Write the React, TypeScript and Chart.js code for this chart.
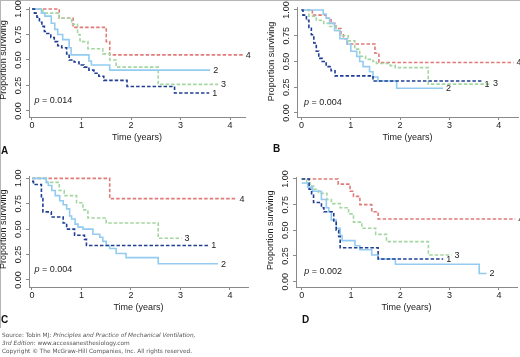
import React, { useEffect, useRef } from "react";
import { Chart, registerables } from "chart.js";
Chart.register(...registerables);

// ---------- shared axis values ----------
const yTickValues = [0, 0.25, 0.5, 0.75, 1];
const yTickLabels = ["0.00", "0.25", "0.50", "0.75", "1.00"];
const xTickValues = [0, 1, 2, 3, 4];
const xTickLabels = ["0", "1", "2", "3", "4"];
const groupNames = ["1", "2", "3", "4"];
const yTitle = "Proportion surviving";
const xTitle = "Time (years)";

// ---------- Panel A ----------
const aT1 = [0, 0.05, 0.1, 0.15, 0.2, 0.25, 0.3, 0.38, 0.45, 0.52, 0.6, 0.7, 0.75, 0.85, 0.95, 1.05, 1.15, 1.25, 1.35, 1.45, 1.92, 2.88, 3.58];
const aS1 = [1.0, 0.96, 0.92, 0.87, 0.83, 0.78, 0.76, 0.72, 0.68, 0.64, 0.62, 0.56, 0.5, 0.48, 0.45, 0.43, 0.4, 0.37, 0.34, 0.3, 0.24, 0.175, 0.175];
const aT2 = [0, 0.19, 0.26, 0.39, 0.46, 0.52, 0.62, 0.75, 0.79, 1.15, 1.2, 1.57, 3.6];
const aS2 = [1.0, 0.96, 0.93, 0.86, 0.8, 0.75, 0.7, 0.62, 0.55, 0.49, 0.45, 0.4, 0.4];
const aT3 = [0, 0.22, 0.55, 0.8, 0.92, 0.97, 1.13, 1.43, 1.57, 1.7, 2.55, 3.76];
const aS3 = [1.0, 0.96, 0.91, 0.85, 0.75, 0.68, 0.61, 0.56, 0.5, 0.43, 0.26, 0.26];
const aT4 = [0, 0.55, 0.83, 1.5, 1.57, 4.26];
const aS4 = [1.0, 0.91, 0.82, 0.68, 0.55, 0.55];
const aP = "0.014";

// ---------- Panel B ----------
const bT1 = [0, 0.03, 0.1, 0.15, 0.2, 0.25, 0.3, 0.35, 0.42, 0.5, 0.6, 0.68, 1.45, 3.65];
const bS1 = [1.0, 0.95, 0.9, 0.83, 0.76, 0.68, 0.6, 0.53, 0.5, 0.45, 0.41, 0.36, 0.31, 0.31];
const bT2 = [0, 0.44, 0.5, 0.57, 0.67, 0.78, 0.92, 1.0, 1.12, 1.18, 1.25, 1.38, 1.45, 1.55, 1.93, 2.87];
const bS2 = [1.0, 0.96, 0.92, 0.87, 0.8, 0.72, 0.67, 0.6, 0.55, 0.5, 0.45, 0.4, 0.35, 0.31, 0.24, 0.24];
const bT3 = [0, 0.15, 0.3, 0.45, 0.57, 0.7, 0.78, 0.95, 1.08, 1.18, 1.3, 1.45, 1.52, 1.8, 1.9, 2.57, 3.82];
const bS3 = [1.0, 0.94, 0.9, 0.87, 0.84, 0.8, 0.75, 0.7, 0.62, 0.55, 0.52, 0.5, 0.48, 0.46, 0.44, 0.28, 0.28];
const bT4 = [0, 0.22, 0.5, 0.6, 0.7, 0.8, 0.85, 0.93, 1.49, 1.57, 4.3];
const bS4 = [1.0, 0.95, 0.92, 0.87, 0.82, 0.76, 0.72, 0.67, 0.58, 0.49, 0.49];
const bP = "0.004";

// ---------- Panel C ----------
const cT1 = [0, 0.03, 0.19, 0.22, 0.39, 0.63, 0.7, 0.86, 1.06, 1.1, 3.56];
const cS1 = [0.97, 0.94, 0.8, 0.67, 0.62, 0.56, 0.5, 0.44, 0.4, 0.34, 0.34];
const cT2 = [0, 0.29, 0.33, 0.4, 0.47, 0.56, 0.63, 0.7, 0.76, 0.8, 0.87, 0.93, 1.03, 1.23, 1.37, 1.43, 1.5, 1.57, 1.7, 1.9, 2.55, 3.76];
const cS2 = [1.0, 0.96, 0.93, 0.88, 0.83, 0.78, 0.74, 0.7, 0.63, 0.6, 0.55, 0.52, 0.5, 0.45, 0.42, 0.38, 0.34, 0.31, 0.26, 0.22, 0.16, 0.16];
const cT3 = [0, 0.29, 0.55, 0.65, 0.9, 1.03, 1.13, 1.5, 2.55, 3.02];
const cS3 = [1.0, 0.96, 0.88, 0.83, 0.76, 0.69, 0.61, 0.56, 0.41, 0.41];
const cT4 = [0, 1.57, 4.13];
const cS4 = [1.0, 0.8, 0.8];
const cP = "0.004";

// ---------- Panel D ----------
const dT1 = [0, 0.15, 0.2, 0.24, 0.4, 0.45, 0.65, 0.7, 0.75, 0.78, 1.55, 2.87];
const dS1 = [1.0, 0.9, 0.84, 0.77, 0.72, 0.68, 0.59, 0.5, 0.44, 0.33, 0.22, 0.22];
const dT2 = [0, 0.12, 0.22, 0.4, 0.5, 0.55, 0.6, 0.7, 0.78, 0.82, 1.08, 1.18, 1.42, 1.55, 1.9, 3.6, 3.75];
const dS2 = [0.96, 0.92, 0.88, 0.8, 0.72, 0.68, 0.6, 0.52, 0.45, 0.4, 0.35, 0.31, 0.26, 0.22, 0.17, 0.08, 0.08];
const dT3 = [0, 0.1, 0.17, 0.24, 0.34, 0.51, 0.6, 0.78, 0.95, 1.05, 1.22, 1.5, 1.72, 2.57, 3.04];
const dS3 = [1.0, 0.96, 0.93, 0.9, 0.86, 0.8, 0.76, 0.72, 0.66, 0.58, 0.52, 0.46, 0.39, 0.26, 0.26];
const dT4 = [0, 0.74, 0.98, 1.05, 1.18, 1.42, 1.55, 4.33];
const dS4 = [1.0, 0.95, 0.88, 0.83, 0.75, 0.68, 0.61, 0.61];
const dP = "0.002";

// ---------- styles ----------
const groupColors = ["#203f94", "#93ccf0", "#a3d6a0", "#e07b78"];
const groupDash = [[3.5, 2], [], [3.5, 2], [3.5, 2]];
const axisColor = "#8a8a8a";
const textColor = "#222";
const FONT = "'Liberation Sans', Arial, Helvetica, sans-serif";

type Panel = {
  key: string;
  left: number; top: number;
  area: { l: number; r: number; t: number; b: number };
  xr: [number, number]; yr: [number, number];
  series: { t: number[]; s: number[] }[];
  labelDy: number[];
  p: string;
};

const panels: Panel[] = [
  { key: "A", left: 0, top: 0, area: { l: 29, r: 245, t: 7, b: 117 }, xr: [-0.0606, 4.303], yr: [-0.06, 1.02],
    series: [{ t: aT1, s: aS1 }, { t: aT2, s: aS2 }, { t: aT3, s: aS3 }, { t: aT4, s: aS4 }], labelDy: [0, 0, 0, 0], p: aP },
  { key: "B", left: 260, top: 0, area: { l: 37, r: 258, t: 7.5, b: 117 }, xr: [-0.091, 4.39], yr: [-0.039, 1.024],
    series: [{ t: bT1, s: bS1 }, { t: bT2, s: bS2 }, { t: bT3, s: bS3 }, { t: bT4, s: bS4 }], labelDy: [3, 0, -1, 0], p: bP },
  { key: "C", left: 0, top: 160, area: { l: 29, r: 248, t: 16, b: 127 }, xr: [-0.0606, 4.364], yr: [-0.069, 1.023],
    series: [{ t: cT1, s: cS1 }, { t: cT2, s: cS2 }, { t: cT3, s: cS3 }, { t: cT4, s: cS4 }], labelDy: [0, 0, 0, 0], p: cP },
  { key: "D", left: 260, top: 160, area: { l: 36, r: 257, t: 17, b: 127 }, xr: [-0.116, 4.367], yr: [-0.052, 1.019],
    series: [{ t: dT1, s: dS1 }, { t: dT2, s: dS2 }, { t: dT3, s: dS3 }, { t: dT4, s: dS4 }], labelDy: [0, 0, 0, 0], p: dP },
];

const W = 260;
const H = 160;

function PanelChart({ panel }: { panel: Panel }) {
  const ref = useRef<HTMLCanvasElement | null>(null);
  useEffect(() => {
    if (!ref.current) return;
    const a = panel.area;
    const textPlugin = {
      id: "panelText",
      afterDraw(chart: any) {
        const ctx = chart.ctx;
        const xs = chart.scales.x;
        const ys = chart.scales.y;
        const ca = chart.chartArea;
        ctx.save();
        ctx.fillStyle = textColor;
        ctx.font = `9px ${FONT}`;
        ctx.textAlign = "center";
        ctx.textBaseline = "middle";
        yTickValues.forEach((v, i) => {
          const y = ys.getPixelForValue(v);
          ctx.save();
          ctx.translate(ca.left - 10.5, y);
          ctx.rotate(-Math.PI / 2);
          ctx.fillText(yTickLabels[i], 0, 0);
          ctx.restore();
        });
        ctx.save();
        ctx.translate(ca.left - 25, (ys.getPixelForValue(0) + ys.getPixelForValue(1)) / 2);
        ctx.rotate(-Math.PI / 2);
        ctx.fillText(yTitle, 0, 0);
        ctx.restore();
        xTickValues.forEach((v, i) => {
          ctx.fillText(xTickLabels[i], xs.getPixelForValue(v), ca.bottom + 9);
        });
        ctx.fillText(xTitle, (ca.left + ca.right) / 2, ca.bottom + 20.5);
        ctx.textAlign = "left";
        const px = xs.getPixelForValue(0) + 2.5;
        const py = ys.getPixelForValue(0.1);
        ctx.font = `italic 9px ${FONT}`;
        ctx.fillText("p", px, py);
        const pw = ctx.measureText("p").width;
        ctx.font = `9px ${FONT}`;
        ctx.fillText(" = " + panel.p, px + pw, py);
        panel.series.forEach((sr, i) => {
          const n = sr.t.length - 1;
          ctx.fillText(groupNames[i], xs.getPixelForValue(sr.t[n]) + 3, ys.getPixelForValue(sr.s[n]) + 0.5 + panel.labelDy[i]);
        });
        ctx.restore();
      },
    };
    const chart = new Chart(ref.current, {
      type: "line",
      data: {
        datasets: panel.series.map((sr, i) => ({
          label: groupNames[i],
          data: sr.t.map((t, j) => ({ x: t, y: sr.s[j] })),
          borderColor: groupColors[i],
          borderWidth: 1.6,
          borderDash: groupDash[i],
          stepped: true,
          pointRadius: 0,
          fill: false,
        })),
      },
      options: {
        responsive: false,
        animation: false,
        events: [],
        layout: { padding: { left: 0, top: a.t, right: W - a.r, bottom: 0 } },
        plugins: { legend: { display: false }, tooltip: { enabled: false }, title: { display: false } },
        scales: {
          x: {
            type: "linear",
            min: panel.xr[0],
            max: panel.xr[1],
            afterBuildTicks: (s: any) => { s.ticks = xTickValues.map((v) => ({ value: v })); },
            afterFit: (s: any) => { s.height = H - a.b; },
            ticks: { display: false },
            grid: { drawOnChartArea: false, drawTicks: true, tickLength: 3, color: axisColor, lineWidth: 1 },
            border: { display: true, color: axisColor, width: 1 },
          },
          y: {
            type: "linear",
            min: panel.yr[0],
            max: panel.yr[1],
            afterBuildTicks: (s: any) => { s.ticks = yTickValues.map((v) => ({ value: v })); },
            afterFit: (s: any) => { s.width = a.l; },
            ticks: { display: false },
            grid: { drawOnChartArea: false, drawTicks: true, tickLength: 3, color: axisColor, lineWidth: 1 },
            border: { display: true, color: axisColor, width: 1 },
          },
        },
      } as any,
      plugins: [textPlugin],
    });
    return () => chart.destroy();
  }, [panel]);
  return (
    <canvas
      ref={ref}
      width={W}
      height={H}
      style={{ position: "absolute", left: panel.left, top: panel.top, width: W, height: H }}
    />
  );
}

const letterStyle = (left: number, top: number): React.CSSProperties => ({
  position: "absolute", left, top, font: `bold 10px ${FONT}`, color: "#111", lineHeight: "10px",
});

const srcStyle: React.CSSProperties = {
  position: "absolute", left: 2, font: "5.8px 'DejaVu Sans', Verdana, sans-serif", color: "#555",
  lineHeight: "7px", whiteSpace: "nowrap",
};

export default function App() {
  return (
    <div style={{ position: "absolute", left: 0, top: 0, width: 520, height: 357, background: "#fff", overflow: "hidden" }}>
      <div style={{ position: "absolute", left: 0, top: 0, width: 520, height: 1, background: "#b5b5b5" }} />
      <div style={{ position: "absolute", left: 0, top: 0, width: 1, height: 328, background: "#b5b5b5" }} />
      {panels.map((p) => <PanelChart key={p.key} panel={p} />)}
      <div style={letterStyle(1, 146)}>A</div>
      <div style={letterStyle(273, 144)}>B</div>
      <div style={letterStyle(1, 315)}>C</div>
      <div style={letterStyle(302, 315)}>D</div>
      <div style={{ ...srcStyle, top: 332 }}>Source: Tobin MJ: <i>Principles and Practice of Mechanical Ventilation,</i></div>
      <div style={{ ...srcStyle, top: 340 }}><i>3rd Edition</i>: www.accessanesthesiology.com</div>
      <div style={{ ...srcStyle, top: 348 }}>Copyright © The McGraw-Hill Companies, Inc. All rights reserved.</div>
    </div>
  );
}
